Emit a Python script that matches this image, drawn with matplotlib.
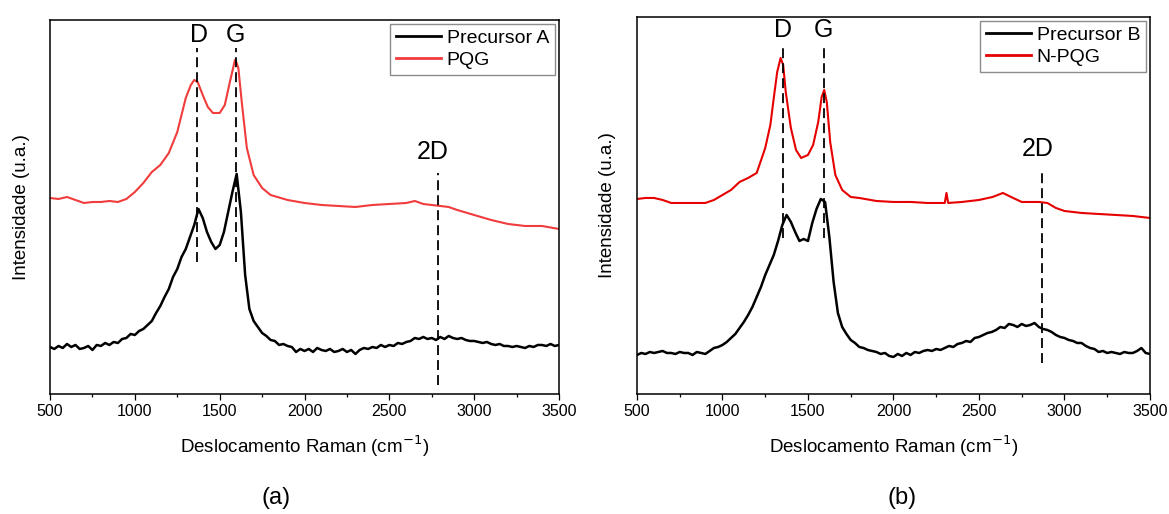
import matplotlib.pyplot as plt
import numpy as np
from matplotlib.ticker import MultipleLocator

plt.rcParams["font.family"] = ["Liberation Sans", "DejaVu Sans"]

# Raman shift grid (cm-1) for the noisy precursor spectra
wn_grid = np.arange(500, 3501, 25)

# intensities (arbitrary units), one row per 100 cm-1
precursor_a = [
    90, 88, 91, 89,      # 500
    93, 90, 92, 88,      # 600
    89, 91, 87, 92,      # 700
    91, 94, 92, 95,      # 800
    94, 98, 99, 103,     # 900
    102, 106, 108, 112,  # 1000
    116, 124, 131, 140,  # 1100
    148, 160, 168, 180,  # 1200
    188, 200, 212, 228,  # 1300
    219, 205, 195, 188,  # 1400
    192, 205, 225, 245,  # 1500
    263, 225, 162, 128,  # 1600
    116, 110, 104, 101,  # 1700
    97, 96, 92, 93,      # 1800
    91, 90, 85, 88,      # 1900
    86, 88, 85, 89,      # 2000
    87, 86, 88, 85,      # 2100
    86, 88, 85, 87,      # 2200
    83, 87, 89, 88,      # 2300
    90, 89, 92, 90,      # 2400
    92, 91, 94, 93,      # 2500
    95, 96, 99, 98,      # 2600
    100, 98, 99, 97,     # 2700
    100, 98, 101, 99,    # 2800
    98, 99, 97, 96,      # 2900
    96, 95, 94, 95,      # 3000
    93, 92, 93, 91,      # 3100
    91, 90, 91, 90,      # 3200
    89, 91, 90, 92,      # 3300
    92, 91, 93, 91,      # 3400
    92,                  # 3500
]

precursor_b = [
    82, 84, 83, 85,      # 500
    84, 85, 86, 84,      # 600
    84, 83, 85, 84,      # 700
    84, 82, 85, 84,      # 800
    83, 86, 89, 90,      # 900
    92, 95, 99, 103,     # 1000
    109, 115, 122, 130,  # 1100
    140, 150, 162, 172,  # 1200
    182, 196, 212, 222,  # 1300
    215, 205, 196, 198,  # 1400
    196, 214, 228, 238,  # 1500
    235, 200, 155, 124,  # 1600
    110, 103, 97, 94,    # 1700
    90, 89, 87, 86,      # 1800
    85, 83, 84, 81,      # 1900
    80, 83, 81, 84,      # 2000
    82, 85, 84, 86,      # 2100
    87, 86, 88, 87,      # 2200
    89, 91, 90, 93,      # 2300
    94, 96, 95, 99,      # 2400
    100, 102, 104, 105,  # 2500
    107, 110, 109, 113,  # 2600
    112, 110, 113, 111,  # 2700
    112, 114, 110, 108,  # 2800
    107, 105, 102, 100,  # 2900
    99, 97, 96, 94,      # 3000
    94, 91, 89, 88,      # 3100
    85, 86, 84, 85,      # 3200
    84, 83, 85, 84,      # 3300
    84, 86, 89, 84,      # 3400
    83,                  # 3500
]

pqg_wn = [500, 550, 600, 650, 700, 750, 800, 850, 900, 950,
          1000, 1050, 1100, 1150, 1200, 1250, 1300, 1330, 1350, 1370,
          1400, 1430, 1460, 1500, 1530, 1560, 1575, 1590, 1600, 1610,
          1630, 1660, 1700, 1750, 1800, 1900, 2000, 2100, 2200, 2300,
          2400, 2500, 2600, 2650, 2700, 2800, 2850, 2900, 3000, 3100,
          3200, 3300, 3400, 3500]
pqg = [239, 238, 240, 237, 234, 235, 235, 236, 235, 238,
       245, 254, 265, 272, 284, 305, 339, 352, 357, 355,
       342, 330, 324, 324, 332, 355, 366, 377, 374, 369,
       335, 289, 262, 249, 242, 237, 234, 232, 231, 230,
       232, 233, 234, 236, 233, 231, 230, 227, 222, 217,
       213, 211, 211, 208]

npqg_wn = [500, 550, 600, 650, 700, 750, 800, 850, 900, 950,
           1000, 1050, 1100, 1150, 1200, 1250, 1280, 1300, 1320, 1340,
           1355, 1370, 1400, 1430, 1460, 1500, 1530, 1560, 1580, 1595,
           1610, 1630, 1660, 1700, 1750, 1800, 1900, 2000, 2100, 2200,
           2300, 2310, 2320, 2400, 2500, 2580, 2640, 2700, 2750, 2850,
           2900, 2950, 3000, 3100, 3200, 3300, 3400, 3500]
npqg = [238, 239, 239, 237, 234, 234, 234, 234, 234, 237,
        242, 247, 255, 259, 264, 289, 312, 339, 365, 379,
        372, 345, 309, 287, 279, 282, 292, 315, 340, 347,
        335, 295, 262, 247, 240, 239, 236, 235, 235, 234,
        234, 244, 234, 235, 237, 240, 244, 239, 235, 235,
        234, 229, 226, 224, 223, 222, 221, 219]

band_names = ["D", "G", "2D"]
bands_a = [1365, 1596, 2785]
bands_b = [1352, 1595, 2870]


def draw_panel(ax, black, red_wn, red, red_color, names, bands, ylim, marks):
    ax.plot(wn_grid, black, color="black", lw=1.8, label=names[0])
    ax.plot(red_wn, red, color=red_color, lw=1.5, label=names[1])

    for pos, (y0, y1) in zip(bands, marks["lines"]):
        ax.plot([pos, pos], [y0, y1], color="black", lw=1.3,
                ls=(0, (5.5, 2.8)), zorder=3)
    for name, (tx, ty) in zip(band_names, marks["labels"]):
        ax.text(tx, ty, name, fontsize=18, ha="center", va="center")

    ax.set_xlim(500, 3500)
    ax.set_ylim(*ylim)
    ax.xaxis.set_major_locator(MultipleLocator(500))
    ax.xaxis.set_minor_locator(MultipleLocator(250))
    ax.tick_params(axis="x", which="major", direction="out", length=4.5,
                   width=0.9, labelsize=11.5, pad=3)
    ax.tick_params(axis="x", which="minor", direction="out", length=2.5, width=0.9)
    ax.set_yticks([])
    for sp in ax.spines.values():
        sp.set_linewidth(1.1)

    ax.set_xlabel("Deslocamento Raman (cm$^{-1}$)", fontsize=13.5, va="baseline")
    ax.xaxis.set_label_coords(0.5, -0.157)
    ax.set_ylabel("Intensidade (u.a.)", fontsize=13.5)
    ax.yaxis.set_label_coords(-0.04, 0.5)

    leg = ax.legend(loc="upper right", bbox_to_anchor=(0.992, 0.99),
                    borderaxespad=0, fontsize=14, frameon=True, fancybox=False,
                    handlelength=2.3, handletextpad=0.3, borderpad=0.3,
                    labelspacing=0.2)
    leg.get_frame().set_edgecolor("#707070")
    leg.get_frame().set_linewidth(1.0)
    for line in leg.get_lines():
        line.set_linewidth(2.0)


fig = plt.figure(figsize=(11.69, 5.14), dpi=100)
ax_a = fig.add_axes([0.0428, 0.2335, 0.4354, 0.7276])
ax_b = fig.add_axes([0.5449, 0.2335, 0.4388, 0.7335])

draw_panel(ax_a, precursor_a, pqg_wn, pqg, "#f03c3c",
           ["Precursor A", "PQG"], bands_a, (43, 417),
           {"lines": [(175, 389), (175, 389), (52, 264)],
            "labels": [(1378, 402), (1594, 402), (2757, 285)]})
draw_panel(ax_b, precursor_b, npqg_wn, npqg, "#e60000",
           ["Precursor B", "N-PQG"], bands_b, (43, 420),
           {"lines": [(199, 389), (199, 389), (74, 265)],
            "labels": [(1355, 407), (1592, 407), (2845, 288)]})

fig.text(276 / 1169, 1 - 498 / 514, "(a)", fontsize=17, ha="center", va="center")
fig.text(902 / 1169, 1 - 498 / 514, "(b)", fontsize=17, ha="center", va="center")

fig.savefig("out.png", dpi=100)
